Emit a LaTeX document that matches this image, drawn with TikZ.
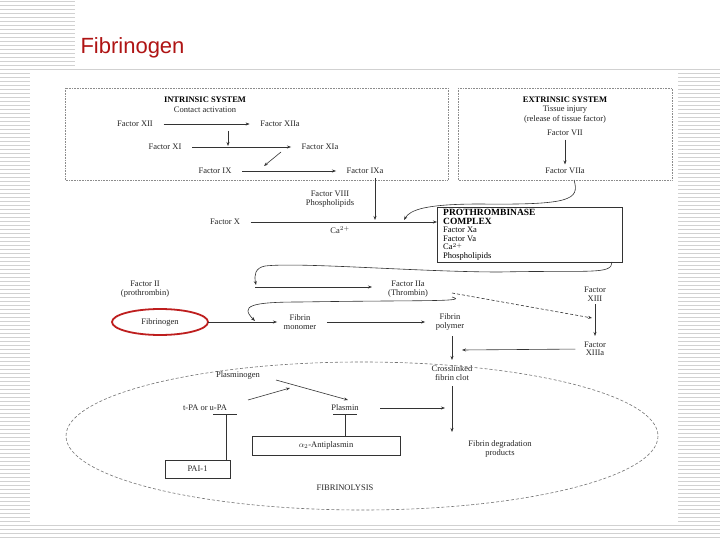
\documentclass[tikz,border=0pt]{standalone}
\usepackage{fontspec}
\setmainfont{Liberation Serif}
\newfontfamily\titlefont{Liberation Sans}
\usetikzlibrary{arrows.meta}
\begin{document}
\begin{tikzpicture}[x=1pt,y=-1pt,
  t/.style={font=\fontsize{8.5}{8.5}\selectfont,inner sep=0.5pt,align=center,text=black!85},
  hd/.style={font=\fontsize{8.5}{9}\selectfont\bfseries,inner sep=0.5pt,align=center},
  ar/.style={-{Stealth[length=4pt,width=3pt]},black!80,line width=0.6pt},
  ln/.style={black!80,line width=0.6pt},
  gap/.style={shorten <=10pt,shorten >=10pt},
  dbox/.style={draw=black!45,densely dotted,line width=0.6pt},
  sbox/.style={draw=black!80,line width=0.6pt}]
\useasboundingbox (0,0) rectangle (720,540);
\foreach \y in {1,5,...,540} \draw[black!18,line width=0.8pt] (0,\y) -- (720,\y);
\fill[white] (75,0) rectangle (720,68);
\fill[white] (30,70) rectangle (678,522);
\node[anchor=west,font=\titlefont\fontsize{22}{24}\selectfont,text={rgb,255:red,175;green,20;blue,20}] (title) at (77,48) {Fibrinogen};
% intrinsic
\draw[dbox] (65,88) rectangle (448,180);
\node[hd] (ihd) at (205,100) {INTRINSIC SYSTEM};
\node[t] (ica) at (205,110) {Contact activation};
\node[t] (f12) at (135,124) {Factor XII};
\node[t] (f12a) at (280,124) {Factor XIIa};
\node[t] (f11) at (165,147) {Factor XI};
\node[t] (f11a) at (320,147) {Factor XIa};
\node[t] (f9) at (215,171) {Factor IX};
\node[t] (f9a) at (365,171) {Factor IXa};
\coordinate (c11) at (228,146);
\draw[ar,gap] (f12) -- (f12a);
\draw[ar,gap] (f11) -- (f11a);
\draw[ar,gap] (f9) -- (f9a);
\draw[ar] (228,131) -- (c11);
\draw[ar] (281,152) -- (264,166);
% extrinsic
\draw[dbox] (458,88) rectangle (672,180);
\node[hd] (ehd) at (565,100) {EXTRINSIC SYSTEM};
\node[t] (eti) at (565,110) {Tissue injury};
\node[t] (erel) at (565,119) {(release of tissue factor)};
\node[t] (f7) at (565,133) {Factor VII};
\node[t] (f7a) at (565,171) {Factor VIIa};
\draw[ar,shorten <=3pt,shorten >=3pt] (f7) -- (f7a);
% factor X
\node[t] (f8) at (330,199) {Factor VIII\\Phospholipids};
\node[t] (f10) at (225,222) {Factor X};
\node[t] (ca) at (340,230) {Ca$^{2+}$};
\draw[sbox] (437,207) rectangle (622,262);
\node[anchor=north west,inner sep=0pt,align=left,font=\fontsize{8.5}{8.6}\selectfont] (pc) at (443,209) {\textbf{\fontsize{9.5}{9.5}\selectfont PROTHROMBINASE}\\\textbf{\fontsize{9.5}{9.5}\selectfont COMPLEX}\\Factor Xa\\Factor Va\\Ca$^{2+}$\\Phospholipids};
\coordinate (pin) at (437,222);
\draw[ar,shorten <=10pt] (f10) -- (pin);
\draw[ar] (375,178) -- (375,220);
\draw[ar] (574,180) .. controls (580,200) and (570,205) .. (480,204) .. controls (425,204) and (410,210) .. (404,220);
% thrombin
\node[t] (f2) at (145,289) {Factor II\\(prothrombin)};
\node[t] (f2a) at (408,289) {Factor IIa\\(Thrombin)};
\node[t] (f13) at (595,294) {Factor\\XIII};
\draw[ar] (255,287) -- (372,287);
\draw[ar] (612,262) .. controls (612,275) and (590,270) .. (500,272) .. controls (420,272) and (300,262) .. (265,266) .. controls (255,268) and (254,275) .. (256,285);
\draw[ar,densely dashed] (452,293) -- (592,318);
% fibrin
\draw[draw={rgb,255:red,190;green,30;blue,30},line width=1.8pt] (160,322) ellipse (48 and 13);
\node[t] (fbg) at (160,322) {Fibrinogen};
\node[t] (fm) at (300,322) {Fibrin\\monomer};
\node[t] (fp) at (450,322) {Fibrin\\polymer};
\draw[ar,shorten >=6pt] (208,322) -- (fm.west);
\draw[ar,gap] (fm.east) -- (fp.west);
\draw[ar] (452,297) .. controls (470,302) and (420,300) .. (300,302) .. controls (250,302) and (240,306) .. (255,321);
\node[t] (f13a) at (595,349) {Factor\\XIIIa};
\draw[ar] (595,304) -- (595,336);
\draw[ar] (452,336) -- (452,360);
\draw[ar,shorten <=8pt] (f13a.west) -- (462,350);
\node[t] (clot) at (452,373) {Crosslinked\\fibrin clot};
\node[t] (fdp) at (500,449) {Fibrin degradation\\products};
\draw[ar] (452,386) -- (452,432);
% fibrinolysis
\draw[black!55,densely dashed,line width=0.6pt] (362,436) ellipse (296 and 74);
\node[t] (plg) at (238,375) {Plasminogen};
\node[t] (tpa) at (205,408) {t-PA or u-PA};
\node[t] (pls) at (345,408) {Plasmin};
\draw[ar] (276,380) -- (348,400);
\draw[ar] (248,400) -- (290,388);
\draw[ar] (380,408) -- (445,408);
\draw[sbox] (252,436) rectangle (400,455);
\node[t] (ap) at (326,445.5) {$\alpha_2$-Antiplasmin};
\draw[sbox] (165,460) rectangle (230,478);
\node[t] (pai) at (197.5,469) {PAI-1};
\draw[ln] (213,414) -- (237,414);
\draw[ln] (226,414) -- (226,460);
\draw[ln] (333,414) -- (357,414);
\draw[ln] (345,414) -- (345,436);
\node[t] (fl) at (345,488) {FIBRINOLYSIS};
\end{tikzpicture}
\end{document}
